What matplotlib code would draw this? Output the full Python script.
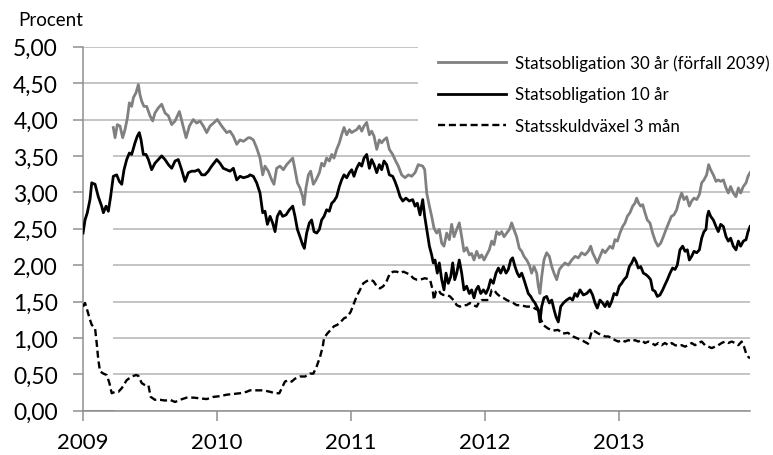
import matplotlib.pyplot as plt
from matplotlib.ticker import FuncFormatter

plt.rcParams['font.family'] = ['Lato', 'DejaVu Sans']

# (decimal year, percent)
thirty_year_missing = [(2009.000, 0.0), (2009.226, 0.0)]

thirty_year = [
    (2009.226, 3.89), (2009.239, 3.75), (2009.256, 3.93), (2009.276, 3.91), (2009.296, 3.75),
    (2009.313, 3.86), (2009.331, 4.02), (2009.346, 4.23), (2009.363, 4.18), (2009.376, 4.30),
    (2009.396, 4.37), (2009.413, 4.48), (2009.425, 4.34), (2009.438, 4.25), (2009.455, 4.18),
    (2009.475, 4.18), (2009.500, 4.05), (2009.520, 3.98), (2009.537, 4.09), (2009.562, 4.16),
    (2009.587, 4.21), (2009.612, 4.09), (2009.637, 4.05), (2009.662, 3.93), (2009.687, 3.98),
    (2009.719, 4.11), (2009.744, 3.93), (2009.769, 3.75), (2009.794, 3.91), (2009.823, 4.00),
    (2009.848, 3.95), (2009.873, 3.98), (2009.898, 3.91), (2009.923, 3.82), (2009.948, 3.91),
    (2009.973, 3.95), (2010.002, 4.00), (2010.035, 3.91), (2010.072, 3.82), (2010.097, 3.84),
    (2010.122, 3.77), (2010.147, 3.66), (2010.172, 3.72), (2010.197, 3.70), (2010.234, 3.75),
    (2010.246, 3.75), (2010.271, 3.72), (2010.296, 3.61), (2010.321, 3.47), (2010.341, 3.24),
    (2010.358, 3.36), (2010.383, 3.29), (2010.408, 3.17), (2010.425, 3.11), (2010.445, 3.33),
    (2010.470, 3.36), (2010.495, 3.31), (2010.520, 3.38), (2010.545, 3.43), (2010.565, 3.47),
    (2010.582, 3.31), (2010.600, 3.13), (2010.619, 3.06), (2010.639, 2.94), (2010.649, 2.83),
    (2010.664, 3.06), (2010.682, 3.24), (2010.699, 3.29), (2010.719, 3.11), (2010.739, 3.17),
    (2010.764, 3.27), (2010.781, 3.40), (2010.799, 3.36), (2010.818, 3.47), (2010.838, 3.43),
    (2010.856, 3.52), (2010.873, 3.47), (2010.893, 3.59), (2010.913, 3.68), (2010.930, 3.79),
    (2010.948, 3.89), (2010.968, 3.79), (2010.988, 3.86), (2011.005, 3.82), (2011.022, 3.84),
    (2011.042, 3.86), (2011.062, 3.91), (2011.080, 3.84), (2011.097, 3.91), (2011.117, 3.96),
    (2011.137, 3.79), (2011.154, 3.84), (2011.172, 3.77), (2011.192, 3.59), (2011.211, 3.72),
    (2011.229, 3.68), (2011.246, 3.72), (2011.266, 3.75), (2011.286, 3.59), (2011.311, 3.52),
    (2011.328, 3.45), (2011.353, 3.36), (2011.378, 3.24), (2011.403, 3.20), (2011.428, 3.24),
    (2011.453, 3.22), (2011.478, 3.27), (2011.502, 3.38), (2011.535, 3.36), (2011.550, 3.31),
    (2011.565, 2.99), (2011.585, 2.81), (2011.602, 2.67), (2011.619, 2.51), (2011.639, 2.44),
    (2011.659, 2.49), (2011.677, 2.30), (2011.694, 2.26), (2011.714, 2.44), (2011.734, 2.35),
    (2011.751, 2.56), (2011.769, 2.39), (2011.789, 2.49), (2011.808, 2.58), (2011.826, 2.39),
    (2011.843, 2.19), (2011.863, 2.24), (2011.883, 2.14), (2011.900, 2.16), (2011.918, 2.07),
    (2011.938, 2.19), (2011.958, 2.10), (2011.975, 2.14), (2011.993, 2.07), (2012.012, 2.14),
    (2012.032, 2.21), (2012.050, 2.33), (2012.067, 2.28), (2012.087, 2.46), (2012.107, 2.42),
    (2012.124, 2.46), (2012.142, 2.39), (2012.162, 2.44), (2012.182, 2.49), (2012.199, 2.58),
    (2012.216, 2.49), (2012.236, 2.39), (2012.256, 2.23), (2012.274, 2.19), (2012.291, 2.12),
    (2012.311, 2.07), (2012.331, 2.00), (2012.348, 1.89), (2012.366, 1.98), (2012.386, 1.89),
    (2012.398, 1.71), (2012.410, 1.61), (2012.423, 1.84), (2012.440, 2.07), (2012.460, 2.17),
    (2012.480, 2.12), (2012.498, 1.98), (2012.515, 1.89), (2012.535, 1.80), (2012.555, 1.94),
    (2012.572, 1.98), (2012.597, 2.03), (2012.622, 2.00), (2012.647, 2.07), (2012.672, 2.12),
    (2012.697, 2.10), (2012.721, 2.17), (2012.746, 2.14), (2012.771, 2.19), (2012.789, 2.26),
    (2012.803, 2.17), (2012.821, 2.10), (2012.838, 2.03), (2012.858, 2.12), (2012.878, 2.21),
    (2012.896, 2.17), (2012.913, 2.21), (2012.933, 2.26), (2012.953, 2.23), (2012.970, 2.35),
    (2012.988, 2.33), (2013.007, 2.44), (2013.027, 2.53), (2013.045, 2.58), (2013.062, 2.67),
    (2013.082, 2.72), (2013.102, 2.81), (2013.119, 2.85), (2013.132, 2.92), (2013.147, 2.85),
    (2013.162, 2.81), (2013.177, 2.83), (2013.194, 2.72), (2013.211, 2.62), (2013.231, 2.58),
    (2013.251, 2.44), (2013.271, 2.33), (2013.291, 2.26), (2013.311, 2.30), (2013.331, 2.39),
    (2013.351, 2.49), (2013.371, 2.58), (2013.391, 2.67), (2013.410, 2.69), (2013.430, 2.76),
    (2013.450, 2.90), (2013.468, 2.99), (2013.485, 2.90), (2013.505, 2.94), (2013.525, 2.81),
    (2013.542, 2.88), (2013.560, 2.92), (2013.580, 2.90), (2013.600, 2.97), (2013.617, 3.13),
    (2013.634, 3.17), (2013.654, 3.24), (2013.669, 3.38), (2013.684, 3.31), (2013.704, 3.24),
    (2013.724, 3.15), (2013.741, 3.17), (2013.759, 3.15), (2013.779, 3.17), (2013.799, 3.06),
    (2013.816, 2.99), (2013.833, 3.08), (2013.853, 2.99), (2013.873, 2.94), (2013.891, 3.06),
    (2013.908, 2.99), (2013.928, 3.08), (2013.948, 3.13), (2013.963, 3.22), (2013.978, 3.27),
]

ten_year = [
    (2009.000, 2.44), (2009.015, 2.62), (2009.032, 2.72), (2009.052, 2.90), (2009.065, 3.13),
    (2009.090, 3.11), (2009.114, 2.94), (2009.139, 2.81), (2009.152, 2.72), (2009.172, 2.81),
    (2009.189, 2.74), (2009.206, 2.94), (2009.226, 3.22), (2009.251, 3.24), (2009.271, 3.15),
    (2009.289, 3.11), (2009.306, 3.31), (2009.326, 3.45), (2009.346, 3.54), (2009.363, 3.52),
    (2009.388, 3.68), (2009.405, 3.77), (2009.420, 3.82), (2009.433, 3.72), (2009.450, 3.52),
    (2009.470, 3.52), (2009.488, 3.45), (2009.512, 3.31), (2009.537, 3.40), (2009.562, 3.45),
    (2009.587, 3.50), (2009.612, 3.45), (2009.637, 3.38), (2009.662, 3.33), (2009.687, 3.43),
    (2009.711, 3.45), (2009.736, 3.31), (2009.761, 3.15), (2009.786, 3.27), (2009.811, 3.29),
    (2009.836, 3.29), (2009.861, 3.31), (2009.886, 3.24), (2009.910, 3.24), (2009.935, 3.29),
    (2009.960, 3.36), (2009.998, 3.45), (2010.022, 3.40), (2010.047, 3.33), (2010.072, 3.31),
    (2010.097, 3.29), (2010.122, 3.33), (2010.147, 3.17), (2010.172, 3.22), (2010.197, 3.20),
    (2010.234, 3.22), (2010.246, 3.24), (2010.271, 3.22), (2010.296, 3.13), (2010.321, 2.99),
    (2010.341, 2.72), (2010.358, 2.74), (2010.376, 2.56), (2010.396, 2.67), (2010.415, 2.58),
    (2010.433, 2.46), (2010.450, 2.67), (2010.470, 2.74), (2010.490, 2.67), (2010.515, 2.69),
    (2010.540, 2.76), (2010.565, 2.81), (2010.582, 2.67), (2010.600, 2.49), (2010.619, 2.39),
    (2010.639, 2.28), (2010.652, 2.23), (2010.669, 2.44), (2010.689, 2.58), (2010.706, 2.62),
    (2010.724, 2.46), (2010.744, 2.44), (2010.764, 2.49), (2010.781, 2.62), (2010.799, 2.67),
    (2010.818, 2.76), (2010.838, 2.74), (2010.856, 2.85), (2010.873, 2.88), (2010.893, 2.94),
    (2010.913, 3.08), (2010.930, 3.17), (2010.948, 3.24), (2010.968, 3.20), (2010.988, 3.27),
    (2011.005, 3.31), (2011.022, 3.22), (2011.042, 3.33), (2011.062, 3.40), (2011.080, 3.36),
    (2011.097, 3.47), (2011.117, 3.52), (2011.137, 3.33), (2011.154, 3.45), (2011.172, 3.38),
    (2011.192, 3.27), (2011.211, 3.38), (2011.229, 3.31), (2011.246, 3.43), (2011.266, 3.38),
    (2011.286, 3.24), (2011.311, 3.22), (2011.328, 3.15), (2011.346, 3.06), (2011.366, 2.94),
    (2011.386, 2.88), (2011.410, 2.92), (2011.435, 2.88), (2011.460, 2.90), (2011.478, 2.81),
    (2011.495, 2.85), (2011.515, 2.69), (2011.535, 2.90), (2011.550, 2.67), (2011.565, 2.49),
    (2011.585, 2.26), (2011.602, 2.14), (2011.614, 2.03), (2011.627, 2.07), (2011.644, 1.89),
    (2011.659, 2.03), (2011.677, 1.80), (2011.694, 1.66), (2011.709, 1.89), (2011.726, 1.75),
    (2011.744, 1.84), (2011.759, 2.03), (2011.774, 1.80), (2011.789, 1.89), (2011.808, 2.07),
    (2011.826, 1.89), (2011.843, 1.66), (2011.863, 1.71), (2011.883, 1.61), (2011.900, 1.66),
    (2011.918, 1.55), (2011.933, 1.66), (2011.950, 1.71), (2011.968, 1.61), (2011.988, 1.66),
    (2012.007, 1.61), (2012.025, 1.68), (2012.042, 1.80), (2012.062, 1.75), (2012.082, 1.89),
    (2012.100, 1.96), (2012.117, 1.89), (2012.137, 1.98), (2012.157, 1.89), (2012.174, 1.94),
    (2012.192, 2.07), (2012.206, 2.10), (2012.224, 1.98), (2012.241, 1.89), (2012.256, 1.84),
    (2012.274, 1.89), (2012.291, 1.80), (2012.306, 1.71), (2012.323, 1.61), (2012.341, 1.57),
    (2012.356, 1.52), (2012.373, 1.48), (2012.386, 1.43), (2012.398, 1.39), (2012.410, 1.22),
    (2012.423, 1.43), (2012.440, 1.55), (2012.460, 1.57), (2012.480, 1.48), (2012.498, 1.52),
    (2012.515, 1.39), (2012.530, 1.29), (2012.547, 1.22), (2012.565, 1.43), (2012.585, 1.48),
    (2012.609, 1.52), (2012.634, 1.55), (2012.654, 1.52), (2012.672, 1.61), (2012.689, 1.57),
    (2012.709, 1.66), (2012.734, 1.59), (2012.759, 1.61), (2012.784, 1.66), (2012.803, 1.59),
    (2012.821, 1.48), (2012.838, 1.41), (2012.858, 1.52), (2012.878, 1.48), (2012.896, 1.43),
    (2012.913, 1.50), (2012.928, 1.43), (2012.945, 1.50), (2012.963, 1.61), (2012.983, 1.59),
    (2013.002, 1.71), (2013.020, 1.75), (2013.037, 1.80), (2013.057, 1.84), (2013.077, 1.98),
    (2013.095, 2.03), (2013.112, 2.10), (2013.127, 2.05), (2013.144, 1.96), (2013.162, 1.98),
    (2013.182, 1.89), (2013.201, 1.87), (2013.219, 1.84), (2013.236, 1.80), (2013.251, 1.66),
    (2013.269, 1.64), (2013.286, 1.57), (2013.306, 1.59), (2013.326, 1.66), (2013.343, 1.73),
    (2013.361, 1.80), (2013.381, 1.89), (2013.400, 1.96), (2013.418, 1.94), (2013.435, 2.00),
    (2013.455, 2.21), (2013.475, 2.26), (2013.493, 2.19), (2013.510, 2.21), (2013.525, 2.07),
    (2013.542, 2.12), (2013.560, 2.19), (2013.580, 2.17), (2013.600, 2.21), (2013.617, 2.37),
    (2013.634, 2.46), (2013.649, 2.49), (2013.659, 2.67), (2013.669, 2.74), (2013.684, 2.67),
    (2013.704, 2.62), (2013.724, 2.53), (2013.741, 2.46), (2013.759, 2.56), (2013.779, 2.53),
    (2013.799, 2.39), (2013.816, 2.33), (2013.833, 2.37), (2013.853, 2.26), (2013.873, 2.21),
    (2013.891, 2.33), (2013.908, 2.26), (2013.928, 2.33), (2013.948, 2.35), (2013.963, 2.46),
    (2013.978, 2.53),
]

three_month = [
    (2009.000, 1.43), (2009.015, 1.48), (2009.027, 1.41), (2009.052, 1.25), (2009.065, 1.18),
    (2009.090, 1.13), (2009.102, 0.93), (2009.114, 0.70), (2009.127, 0.54), (2009.152, 0.51),
    (2009.177, 0.49), (2009.197, 0.38), (2009.214, 0.24), (2009.239, 0.26), (2009.264, 0.26),
    (2009.289, 0.31), (2009.326, 0.42), (2009.363, 0.47), (2009.396, 0.49), (2009.413, 0.48),
    (2009.438, 0.38), (2009.463, 0.35), (2009.488, 0.35), (2009.505, 0.19), (2009.537, 0.15),
    (2009.575, 0.15), (2009.612, 0.14), (2009.649, 0.15), (2009.687, 0.12), (2009.724, 0.15),
    (2009.774, 0.18), (2009.823, 0.18), (2009.873, 0.17), (2009.923, 0.16), (2009.973, 0.19),
    (2010.022, 0.20), (2010.072, 0.22), (2010.122, 0.23), (2010.172, 0.24), (2010.221, 0.26),
    (2010.246, 0.28), (2010.296, 0.28), (2010.346, 0.28), (2010.396, 0.26), (2010.433, 0.24),
    (2010.465, 0.24), (2010.483, 0.31), (2010.507, 0.40), (2010.532, 0.42), (2010.557, 0.40),
    (2010.582, 0.44), (2010.619, 0.47), (2010.657, 0.47), (2010.694, 0.51), (2010.719, 0.51),
    (2010.744, 0.61), (2010.769, 0.74), (2010.789, 0.88), (2010.799, 1.00), (2010.823, 1.06),
    (2010.848, 1.11), (2010.873, 1.16), (2010.898, 1.18), (2010.923, 1.22), (2010.948, 1.27),
    (2010.973, 1.29), (2010.998, 1.36), (2011.017, 1.45), (2011.042, 1.57), (2011.067, 1.66),
    (2011.092, 1.75), (2011.117, 1.78), (2011.142, 1.80), (2011.167, 1.78), (2011.192, 1.71),
    (2011.216, 1.68), (2011.241, 1.71), (2011.266, 1.78), (2011.291, 1.89), (2011.316, 1.91),
    (2011.341, 1.91), (2011.366, 1.89), (2011.391, 1.91), (2011.415, 1.89), (2011.440, 1.87),
    (2011.465, 1.82), (2011.490, 1.80), (2011.515, 1.80), (2011.552, 1.82), (2011.590, 1.80),
    (2011.609, 1.66), (2011.619, 1.52), (2011.634, 1.64), (2011.652, 1.66), (2011.669, 1.61),
    (2011.689, 1.59), (2011.714, 1.59), (2011.739, 1.57), (2011.764, 1.52), (2011.789, 1.45),
    (2011.813, 1.43), (2011.838, 1.45), (2011.863, 1.45), (2011.888, 1.48), (2011.913, 1.45),
    (2011.938, 1.43), (2011.958, 1.50), (2011.975, 1.52), (2012.000, 1.52), (2012.025, 1.52),
    (2012.037, 1.57), (2012.050, 1.66), (2012.067, 1.66), (2012.087, 1.61), (2012.112, 1.57),
    (2012.137, 1.55), (2012.162, 1.52), (2012.187, 1.50), (2012.211, 1.48), (2012.236, 1.45),
    (2012.261, 1.45), (2012.286, 1.44), (2012.311, 1.43), (2012.336, 1.43), (2012.358, 1.42),
    (2012.396, 1.38), (2012.418, 1.25), (2012.440, 1.17), (2012.470, 1.13), (2012.507, 1.10),
    (2012.545, 1.11), (2012.582, 1.06), (2012.619, 1.07), (2012.657, 1.02), (2012.694, 0.99),
    (2012.731, 0.96), (2012.769, 0.92), (2012.799, 1.10), (2012.821, 1.09), (2012.846, 1.06),
    (2012.871, 1.04), (2012.896, 1.02), (2012.920, 1.02), (2012.945, 1.00), (2012.970, 0.97),
    (2012.995, 0.95), (2013.020, 0.97), (2013.045, 0.95), (2013.070, 0.97), (2013.095, 0.95),
    (2013.119, 0.97), (2013.144, 0.95), (2013.169, 0.97), (2013.194, 0.93), (2013.219, 0.95),
    (2013.244, 0.93), (2013.269, 0.90), (2013.294, 0.93), (2013.318, 0.90), (2013.343, 0.93),
    (2013.368, 0.90), (2013.393, 0.93), (2013.418, 0.90), (2013.443, 0.89), (2013.468, 0.90),
    (2013.493, 0.88), (2013.517, 0.90), (2013.542, 0.93), (2013.567, 0.90), (2013.592, 0.93),
    (2013.617, 0.95), (2013.642, 0.90), (2013.667, 0.88), (2013.692, 0.86), (2013.716, 0.88),
    (2013.741, 0.90), (2013.766, 0.93), (2013.791, 0.95), (2013.816, 0.93), (2013.841, 0.95),
    (2013.866, 0.93), (2013.891, 0.90), (2013.915, 0.95), (2013.933, 0.88), (2013.948, 0.79),
    (2013.965, 0.74), (2013.978, 0.72),
]

labels = ["Statsobligation 30 år (förfall 2039)", "Statsobligation 10 år", "Statsskuldväxel 3 mån"]
year_ticks = [2009, 2010, 2011, 2012, 2013]
y_ticks = [0.0, 0.5, 1.0, 1.5, 2.0, 2.5, 3.0, 3.5, 4.0, 4.5, 5.0]

fig, ax = plt.subplots(figsize=(7.73, 4.56), dpi=100)
fig.subplots_adjust(left=0.1074, right=0.9703, bottom=0.0971, top=0.8954)

grey = "#808080"
x30, y30 = zip(*thirty_year)
x10, y10 = zip(*ten_year)
x3m, y3m = zip(*three_month)
xm, ym = zip(*thirty_year_missing)

# white patch next to the y axis where the 30-year series has no data yet
ax.axvspan(xm[0], xm[-1], ymin=0.01, ymax=0.72, color="white", zorder=1, lw=0)

ax.plot(xm, ym, color=grey, lw=2.0, zorder=2)
ax.plot(x30, y30, color=grey, lw=2.0, label=labels[0], zorder=3)
ax.plot(x10, y10, color="black", lw=2.0, label=labels[1], zorder=4)
ax.plot(x3m, y3m, color="black", lw=1.7, ls=(0, (3, 1.6)), label=labels[2], zorder=4)

ax.set_xlim(x10[0], x10[-1])
ax.set_ylim(0, 5)
ax.set_xticks(year_ticks)
ax.set_yticks(y_ticks)
ax.yaxis.set_major_formatter(FuncFormatter(lambda v, p: f"{v:.2f}".replace(".", ",")))

ax.grid(axis="y", color="#bfbfbf", lw=1.3)
ax.set_axisbelow(True)
for side in ["top", "right"]:
    ax.spines[side].set_visible(False)
for side in ["left", "bottom"]:
    ax.spines[side].set_color("#909090")
    ax.spines[side].set_linewidth(1.1)
ax.tick_params(axis="both", colors="#909090", width=1.1, length=7, labelsize=16.5, labelcolor="black")
ax.tick_params(axis="y", pad=11)
ax.tick_params(axis="x", pad=8, labelsize=16)

fig.text(18 / 773, 1 - 26 / 456, "Procent", fontsize=13.5, va="baseline", ha="left")

leg = ax.legend(loc="upper left", bbox_to_anchor=(0.502, 1.035), borderaxespad=0,
                fontsize=12.2, handlelength=4.0, handletextpad=0.55, labelspacing=0.92,
                borderpad=1.2, frameon=True, fancybox=False, framealpha=1)
leg.get_frame().set_edgecolor("none")
leg.get_frame().set_facecolor("white")

fig.savefig("out.png", dpi=100)
